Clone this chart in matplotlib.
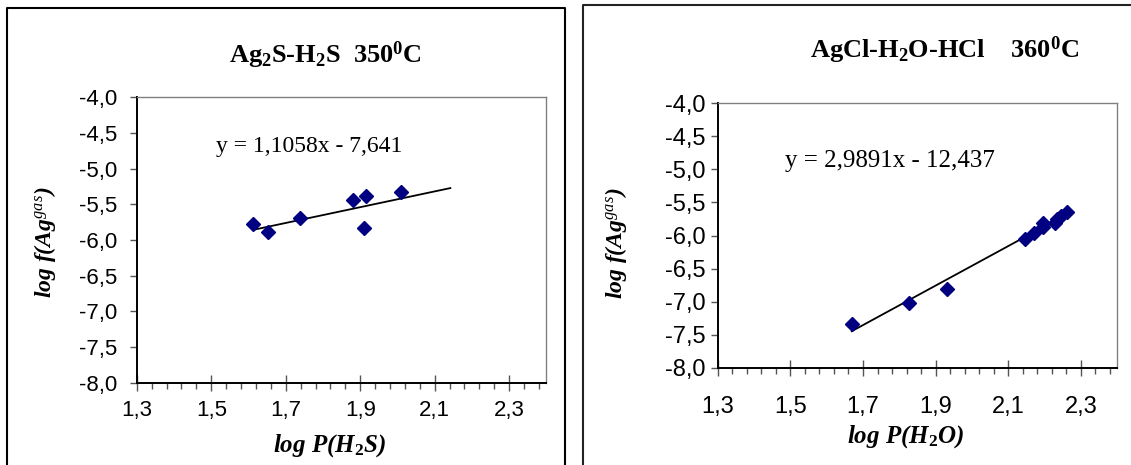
import numpy as np
import matplotlib
matplotlib.use('Agg')
import matplotlib.pyplot as plt
from matplotlib.lines import Line2D

plt.rcParams['mathtext.fontset'] = 'custom'
plt.rcParams['mathtext.rm'] = 'Liberation Serif:bold'
plt.rcParams['mathtext.it'] = 'Liberation Serif:italic'
plt.rcParams['mathtext.bf'] = 'Liberation Serif:bold'

# ---------------- data ----------------
h2s_x = [1.613, 1.653, 1.738, 1.880, 1.915, 1.910, 2.010]
h2s_y = [-5.780, -5.883, -5.692, -5.435, -5.388, -5.827, -5.332]
h2s_slope, h2s_icpt = 1.1058, -7.641
h2s_fit_x = [1.613, 2.142]
h2s_eq = "y = 1,1058x - 7,641"
h2s_title = "Ag$_2$S-H$_2$S  350$^0$C"
h2s_xlabel = "log P(H$_2$S)"

h2o_x = [1.669, 1.826, 1.930, 2.145, 2.172, 2.195, 2.196, 2.228, 2.233, 2.245, 2.261]
h2o_y = [-7.344, -7.027, -6.805, -6.055, -5.955, -5.870, -5.812, -5.808, -5.750, -5.705, -5.642]
h2o_slope, h2o_icpt = 2.9891, -12.437
h2o_fit_x = [1.669, 2.261]
h2o_eq = "y = 2,9891x - 12,437"
h2o_title = "AgCl-H$_2$O-HCl    360$^0$C"
h2o_xlabel = "log P(H$_2$O)"

ylabel = "log f(Ag$^{gas}$)"

x_ticks = [1.3, 1.5, 1.7, 1.9, 2.1, 2.3]
x_ticklabels = ["1,3", "1,5", "1,7", "1,9", "2,1", "2,3"]
x_minor = [1.3 + 0.04 * i for i in range(28)]
y_ticks = [-8.0, -7.5, -7.0, -6.5, -6.0, -5.5, -5.0, -4.5, -4.0]
y_ticklabels = ["-8,0", "-7,5", "-7,0", "-6,5", "-6,0", "-5,5", "-5,0", "-4,5", "-4,0"]

W, H = 1131, 465
fig = plt.figure(figsize=(W / 100, H / 100), dpi=100)
fig.patch.set_facecolor('white')

def fx(px):
    return px / W

def fy(py):
    return 1 - py / H

# panel borders
fig.add_artist(Line2D([fx(7), fx(7), fx(564.7), fx(564.7)], [-0.05, fy(8), fy(8), -0.05],
                      transform=fig.transFigure, color='black', lw=1.5))
fig.add_artist(Line2D([fx(582.7), fx(582.7), 1.05], [-0.05, fy(5), fy(5)],
                      transform=fig.transFigure, color='#222222', lw=1.5))

def make_panel(rect, xs, ys, slope, icpt, fit_x, eq, eq_pos, eq_fs, title, title_pos,
               xlabel, xlabel_pos, ylabel_pos, tick_fs, xpad, ypad):
    ax = fig.add_axes(rect)
    ax.set_xlim(1.3, 2.4)
    ax.set_ylim(-8.0, -4.0)
    fxs = np.array(fit_x)
    ax.plot(fxs, slope * fxs + icpt, color='black', lw=1.3, zorder=2)
    ax.plot(xs, ys, linestyle='none', marker='D', ms=7, color='#000080',
            markeredgecolor='#000080', zorder=3)
    ax.set_xticks(x_ticks)
    ax.set_xticklabels(x_ticklabels)
    ax.set_xticks(x_minor, minor=True)
    ax.set_yticks(y_ticks)
    ax.set_yticklabels(y_ticklabels)
    for lab in ax.get_xticklabels() + ax.get_yticklabels():
        lab.set_fontfamily('Liberation Sans')
        lab.set_fontsize(tick_fs)
    ax.tick_params(axis='x', which='major', direction='inout', length=11, width=1,
                   color='#555555', pad=xpad)
    ax.tick_params(axis='x', which='minor', direction='out', length=4, width=1,
                   color='#555555')
    ax.tick_params(axis='y', which='major', direction='out', length=5, width=1,
                   color='#555555', pad=ypad)
    for s in ['left', 'bottom']:
        ax.spines[s].set_color('black')
        ax.spines[s].set_linewidth(1.4)
    for s in ['top', 'right']:
        ax.spines[s].set_color('#808080')
        ax.spines[s].set_linewidth(1.0)
    ax.text(eq_pos[0], eq_pos[1], eq, fontsize=eq_fs, family='Liberation Serif',
            ha='center', va='center')
    fig.text(fx(title_pos[0]), fy(title_pos[1]), title, fontsize=19,
             family='Liberation Serif', weight='bold', ha='center', va='center')
    fig.text(fx(xlabel_pos[0]), fy(xlabel_pos[1]), xlabel, fontsize=18,
             family='Liberation Serif', weight='bold', style='italic',
             ha='center', va='center')
    fig.text(fx(ylabel_pos[0]), fy(ylabel_pos[1]), ylabel, fontsize=17,
             family='Liberation Serif', weight='bold', style='italic',
             ha='center', va='center', rotation=90)
    return ax

make_panel([fx(136.8), fy(382.7), fx(546.4) - fx(136.8), fy(97.3) - fy(382.7)],
           h2s_x, h2s_y, h2s_slope, h2s_icpt, h2s_fit_x, h2s_eq, (1.764, -4.69), 17,
           h2s_title, (325, 55), h2s_xlabel, (330, 446), (44.6, 242), 16, 7, 9)

make_panel([fx(717.7), fy(367.7), fx(1117.2) - fx(717.7), fy(103.3) - fy(367.7)],
           h2o_x, h2o_y, h2o_slope, h2o_icpt, h2o_fit_x, h2o_eq, (1.774, -4.873), 18,
           h2o_title, (945, 50), h2o_xlabel, (906, 437), (616, 243), 17, 15, 4)

fig.savefig('out.png', dpi=100, facecolor='white')
